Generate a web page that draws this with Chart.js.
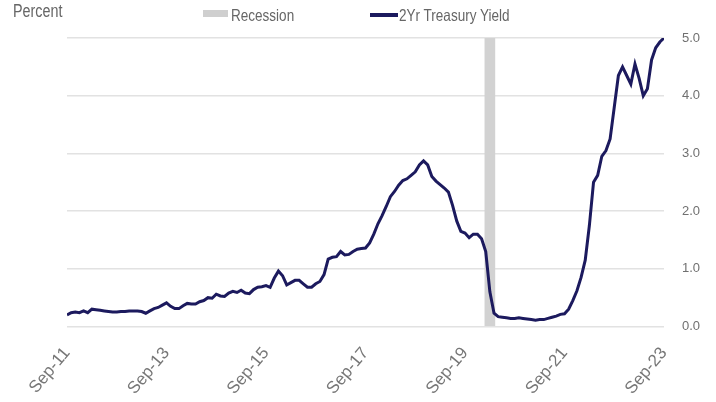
<!DOCTYPE html>
<html>
<head>
<meta charset="utf-8">
<script src="https://cdn.jsdelivr.net/npm/chart.js@4"></script>
<style>
  html, body { margin: 0; padding: 0; background: #ffffff; }
  #wrap { position: relative; width: 716px; height: 402px; overflow: hidden; }
  #chart { position: absolute; left: 0; top: 0; }
  .txt { position: absolute; white-space: nowrap; color: #666666;
         font-family: 'Liberation Sans', Arial, sans-serif;
         transform: scaleX(0.82); transform-origin: 0 0; }
</style>
</head>
<body>
<div id="wrap">
  <canvas id="chart" width="716" height="402"></canvas>
  <div class="txt" style="left:13px; top:3px; font-size:17.5px; line-height:17px;">Percent</div>
  <div style="position:absolute; left:203px; top:10px; width:25px; height:7px; background:#cfcfcf;"></div>
  <div class="txt" style="left:231px; top:7px; font-size:16.5px; line-height:16px;">Recession</div>
  <div style="position:absolute; left:370px; top:13px; width:28px; height:4px; background:#1c1a5e;"></div>
  <div class="txt" style="left:399px; top:7px; font-size:16.5px; line-height:16px;">2Yr Treasury Yield</div>
</div>
<script>
// Monthly 2-year Treasury yield (%), starting Sep-2011 and ending Sep-2023
const startMonth = '2011-09';
const yields = [
  0.20, 0.24, 0.25, 0.24, 0.27, 0.24, 0.30, 0.29, 0.28, 0.27, 0.26, 0.25,
  0.25, 0.26, 0.26, 0.27, 0.27, 0.27, 0.26, 0.23, 0.27, 0.31, 0.33, 0.37,
  0.41, 0.35, 0.31, 0.31, 0.36, 0.40, 0.39, 0.39, 0.43, 0.45, 0.50, 0.49,
  0.56, 0.53, 0.52, 0.58, 0.61, 0.59, 0.63, 0.58, 0.57, 0.64, 0.68, 0.69,
  0.71, 0.68, 0.84, 0.96, 0.88, 0.72, 0.76, 0.80, 0.80, 0.74, 0.68, 0.68,
  0.74, 0.78, 0.90, 1.17, 1.20, 1.21, 1.30, 1.24, 1.25, 1.30, 1.34, 1.35,
  1.36, 1.45, 1.60, 1.78, 1.92, 2.08, 2.25, 2.34, 2.45, 2.53, 2.56, 2.62,
  2.68, 2.80, 2.87, 2.80, 2.60, 2.52, 2.46, 2.40, 2.33, 2.10, 1.83, 1.65,
  1.62, 1.54, 1.60, 1.60, 1.52, 1.30, 0.60, 0.23, 0.17, 0.16, 0.15, 0.14,
  0.14, 0.15, 0.14, 0.13, 0.12, 0.11, 0.12, 0.12, 0.14, 0.16, 0.18, 0.21,
  0.22, 0.30, 0.45, 0.62, 0.85, 1.15, 1.75, 2.50, 2.62, 2.95, 3.05, 3.25,
  3.80, 4.35, 4.50, 4.35, 4.20, 4.55, 4.30, 4.00, 4.12, 4.62, 4.83, 4.93,
  5.00
];
// Recession (NBER) month shown as a shaded band, and its height
const recessionMonths = ['2020-03'];
const recessionLevel = [5.0];
// X-axis tick labels, every 24 months
const tickLabels = ['Sep-11', 'Sep-13', 'Sep-15', 'Sep-17', 'Sep-19', 'Sep-21', 'Sep-23'];
// Y-axis ticks
const yTicks = [0, 1, 2, 3, 4, 5];

function monthIndex(s) {
  const [y0, m0] = startMonth.split('-').map(Number);
  const [y, m] = s.split('-').map(Number);
  return (y - y0) * 12 + (m - m0);
}

const yieldPoints = yields.map((v, i) => ({ x: i, y: v }));
const recessionPoints = recessionMonths.map((s, i) => ({ x: monthIndex(s), y: recessionLevel[i] }));
const lastIndex = (tickLabels.length - 1) * 24;

new Chart(document.getElementById('chart'), {
  type: 'line',
  data: {
    datasets: [
      {
        type: 'line',
        label: '2Yr Treasury Yield',
        data: yieldPoints,
        borderColor: '#1c1a5e',
        borderWidth: 3,
        pointRadius: 0,
        tension: 0,
        fill: false,
        order: 1
      },
      {
        type: 'bar',
        label: 'Recession',
        data: recessionPoints,
        backgroundColor: '#d2d2d2',
        borderWidth: 0,
        barThickness: 10,
        order: 2
      }
    ]
  },
  options: {
    responsive: false,
    devicePixelRatio: 1,
    animation: false,
    layout: { padding: { left: 67, right: 16, top: 38, bottom: 0 } },
    plugins: { legend: { display: false }, tooltip: { enabled: false } },
    scales: {
      x: {
        type: 'linear',
        min: 0,
        max: lastIndex,
        offset: false,
        grid: { display: false, drawTicks: true, tickLength: 8 },
        border: { display: false },
        afterBuildTicks: (axis) => { axis.ticks = tickLabels.map((t, i) => ({ value: i * 24 })); },
        afterFit: (axis) => { axis.height = 75.5; },
        ticks: {
          autoSkip: false,
          minRotation: 50,
          maxRotation: 50,
          padding: 9,
          color: '#777777',
          font: { family: "'Liberation Sans', Arial, sans-serif", size: 17 },
          callback: (v) => tickLabels[Math.round(v / 24)]
        }
      },
      y: {
        position: 'right',
        min: 0,
        max: 5,
        afterBuildTicks: (axis) => { axis.ticks = yTicks.map(v => ({ value: v })); },
        afterFit: (axis) => { axis.width = 36; },
        grid: { color: '#e2e2e2', lineWidth: 1.5, drawTicks: false },
        border: { display: false },
        ticks: {
          padding: 18,
          color: '#707070',
          font: { family: "'Liberation Sans', Arial, sans-serif", size: 13 },
          callback: (v) => Number(v).toFixed(1)
        }
      }
    }
  }
});
</script>
</body>
</html>
